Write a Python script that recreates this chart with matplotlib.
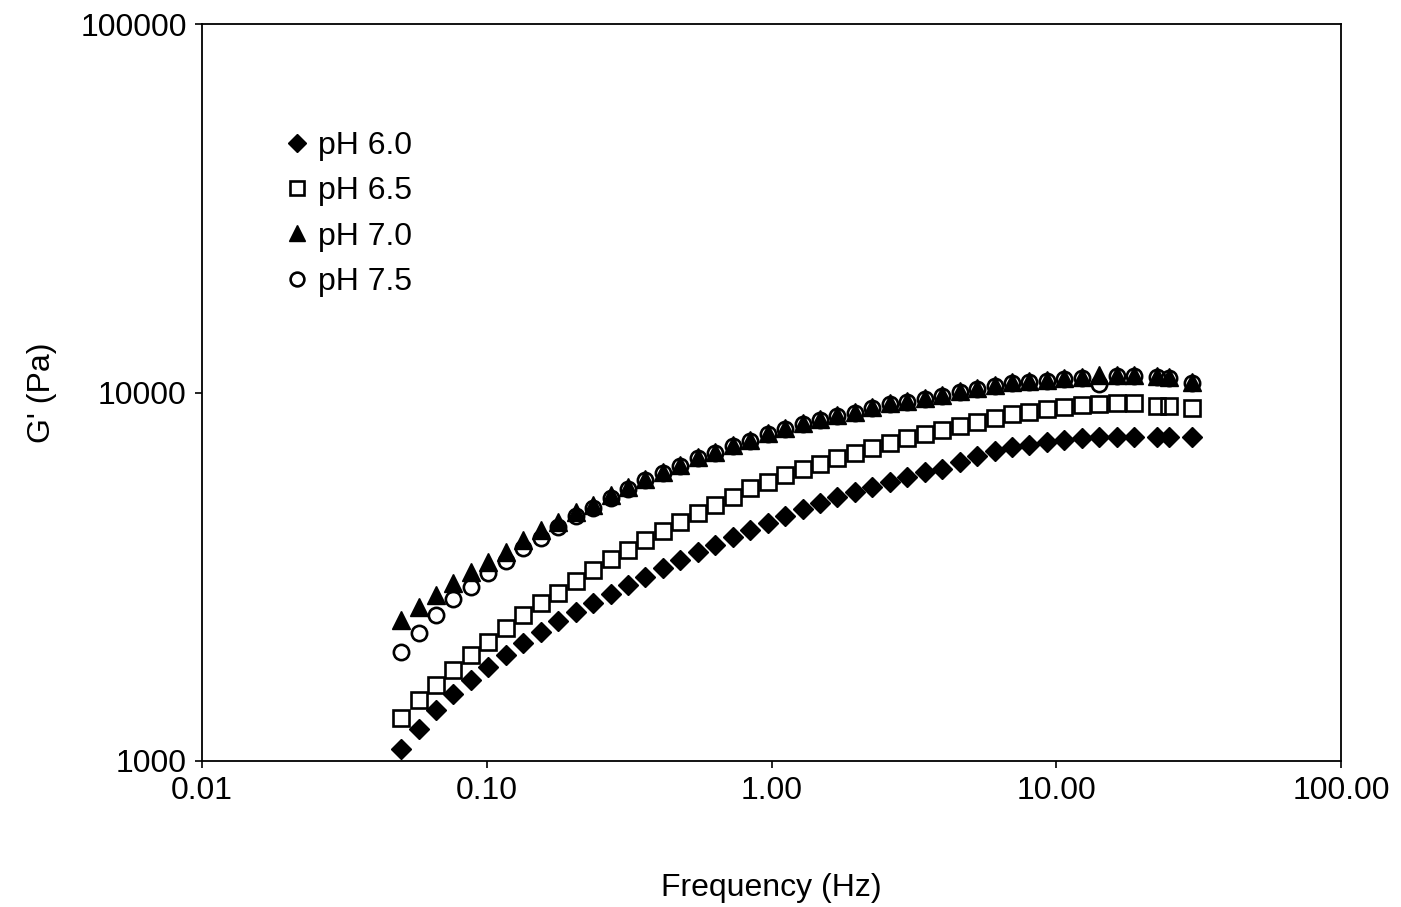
import matplotlib
matplotlib.use("Agg")
import matplotlib.pyplot as plt
from matplotlib.ticker import FixedLocator, FixedFormatter, NullLocator

plt.rcParams['font.family'] = ['Liberation Sans', 'DejaVu Sans']

# frequency sweep (Hz)
freq = [0.050, 0.0576, 0.0663, 0.0764, 0.0880, 0.1013, 0.1166, 0.1343, 0.1547, 0.1781,
        0.2051, 0.2362, 0.2720, 0.3133, 0.3608, 0.4155, 0.4785, 0.5510, 0.6345, 0.7307,
        0.8415, 0.9691, 1.116, 1.285, 1.480, 1.704, 1.963, 2.260, 2.603, 2.998,
        3.452, 3.976, 4.578, 5.272, 6.072, 6.992, 8.052, 9.273, 10.68, 12.30,
        14.16, 16.31, 18.78, 22.5, 24.9, 30.0]

# storage modulus G' (Pa)
g_ph60 = [1078, 1221, 1375, 1520, 1659, 1799, 1940, 2090, 2239, 2398,
          2537, 2684, 2840, 3003, 3157, 3340, 3512, 3691, 3856, 4054,
          4235, 4425, 4622, 4829, 5014, 5205, 5370, 5541, 5716, 5898,
          6085, 6200, 6478, 6725, 6939, 7114, 7203, 7339, 7432, 7526,
          7572, 7572, 7572, 7572, 7572, 7572]
g_ph65 = [1308, 1464, 1608, 1766, 1940, 2103, 2296, 2490, 2684, 2857,
          3079, 3299, 3533, 3737, 3979, 4209, 4452, 4710, 4951, 5205,
          5506, 5716, 5972, 6200, 6397, 6642, 6852, 7069, 7294, 7526,
          7716, 7911, 8112, 8317, 8526, 8743, 8853, 9020, 9135, 9249,
          9307, 9365, 9365, 9191, 9191, 9077]
g_ph70 = [2413, 2618, 2821, 3041, 3258, 3468, 3691, 3979, 4235, 4452,
          4739, 4951, 5271, 5541, 5825, 6085, 6357, 6683, 6895, 7203,
          7432, 7764, 8011, 8265, 8474, 8688, 8853, 9135, 9365, 9482,
          9662, 9845, 10094, 10285, 10480, 10678, 10745, 10812, 10947, 11017,
          11156, 11156, 11156, 11086, 11017, 10678]
g_ph75 = [1976, 2225, 2490, 2752, 2966, 3237, 3490, 3785, 4029, 4315,
          4622, 4859, 5172, 5472, 5789, 6047, 6318, 6642, 6852, 7159,
          7386, 7716, 7961, 8213, 8422, 8634, 8796, 9077, 9307, 9423,
          9602, 9784, 10031, 10221, 10415, 10612, 10678, 10745, 10879, 10947,
          10545, 11086, 11086, 11017, 10947, 10612]

labels = ['pH 6.0', 'pH 6.5', 'pH 7.0', 'pH 7.5']
x_ticks = [0.01, 0.1, 1, 10, 100]
x_tick_labels = ['0.01', '0.10', '1.00', '10.00', '100.00']
y_ticks = [1000, 10000, 100000]
y_tick_labels = ['1000', '10000', '100000']

fig = plt.figure(figsize=(14.01, 9.07), dpi=100)
ax = fig.add_axes([0.1442, 0.1610, 0.8130, 0.8125])

ax.plot(freq, g_ph60, linestyle='none', marker='D', ms=10, color='black', label=labels[0])
ax.plot(freq, g_ph65, linestyle='none', marker='s', ms=11.5, mfc='none', mec='black', mew=1.9, label=labels[1])
ax.plot(freq, g_ph70, linestyle='none', marker='^', ms=12.5, color='black', label=labels[2])
ax.plot(freq, g_ph75, linestyle='none', marker='o', ms=11, mfc='none', mec='black', mew=1.9, label=labels[3])

ax.set_xscale('log')
ax.set_yscale('log')
ax.set_xlim(0.01, 100)
ax.set_ylim(1000, 100000)
ax.xaxis.set_major_locator(FixedLocator(x_ticks))
ax.xaxis.set_major_formatter(FixedFormatter(x_tick_labels))
ax.xaxis.set_minor_locator(NullLocator())
ax.yaxis.set_major_locator(FixedLocator(y_ticks))
ax.yaxis.set_major_formatter(FixedFormatter(y_tick_labels))
ax.yaxis.set_minor_locator(NullLocator())
ax.tick_params(direction='out', length=5, width=1.2, labelsize=23, pad=6)
for s in ax.spines.values():
    s.set_linewidth(1.3)

ax.set_xlabel('Frequency (Hz)', fontsize=23, labelpad=48)
ax.set_ylabel("G' (Pa)", fontsize=23, labelpad=17)

ax.legend(loc='upper left', bbox_to_anchor=(0.072, 0.855), frameon=False,
          fontsize=23, handlelength=0.8, handletextpad=0.25, labelspacing=0.48,
          borderpad=0, borderaxespad=0, markerscale=0.9)

fig.savefig('out.png', dpi=100)
